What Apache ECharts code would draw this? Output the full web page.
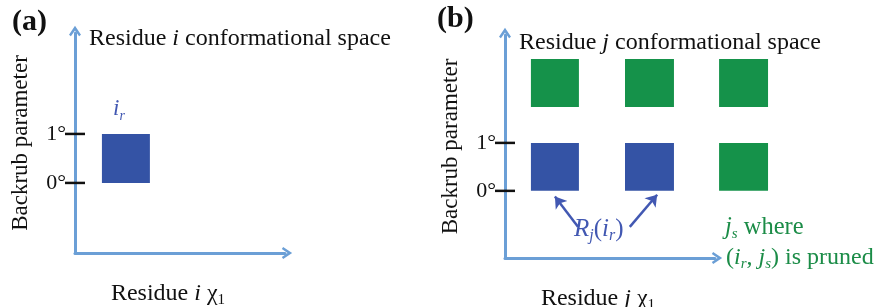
<!DOCTYPE html>
<html>
<head>
<meta charset="utf-8">
<script src="https://cdn.jsdelivr.net/npm/echarts@6/dist/echarts.min.js"></script>
<style>
  html, body { margin: 0; padding: 0; background: #fff; }
  #chart { width: 878px; height: 307px; }
</style>
</head>
<body>
<div id="chart"></div>
<script>
// backrub tick values (degrees)
const tickValues = [0, 1];
// panel (a): one rotamer box [chiStart, chiEnd, backrubStart, backrubEnd]
const boxesA = [[0.55, 1.53, 0, 1]];
// panel (b): R_j(i_r) boxes (blue) and pruned boxes (green)
const boxesBlue = [[0.54, 1.54, 0, 1], [2.5, 3.52, 0, 1]];
const boxesGreen = [[0.54, 1.54, 1.75, 2.75], [2.5, 3.52, 1.75, 2.75], [4.46, 5.48, 1.75, 2.75], [4.46, 5.48, 0, 1]];
// annotation arrows in panel (b) coords
const arrowsBlue = [[[1.52, -0.75], [1.04, -0.12]], [[2.6, -0.75], [3.17, -0.08]]];
const arrowsGreen = [[[5.21, -0.5], [5.21, -0.08]]];

const serif = 'Liberation Serif';
const axisBlue = '#6b9fd6';
const boxBlue = '#3453a5';
const boxGreen = '#15924a';
const textBlue = '#4258b2';
const textGreen = '#1b8c47';
const arrowPath = 'path://M5,0 L10,7.5 L8.4,8.6 L5,3.8 L1.6,8.6 L0,7.5 Z';

let myChart = echarts.init(document.getElementById('chart'));

function rich(color, size) {
  let s = Math.round(size * 0.62);
  return {
    n: { fontFamily: serif, fontSize: size, fontWeight: 'normal', color: color, fill: color, lineHeight: size + 4 },
    it: { fontFamily: serif, fontSize: size, fontWeight: 'normal', fontStyle: 'italic', color: color, fill: color, lineHeight: size + 4 },
    sub: { fontFamily: serif, fontSize: s, fontWeight: 'normal', fontStyle: 'italic', color: color, fill: color, lineHeight: s, verticalAlign: 'bottom' },
    subn: { fontFamily: serif, fontSize: s, fontWeight: 'normal', color: color, fill: color, lineHeight: s, verticalAlign: 'bottom' }
  };
}

function boxSeries(data, color, xi, label) {
  return {
    type: 'custom',
    xAxisIndex: xi,
    yAxisIndex: xi,
    data: data,
    encode: { x: [0, 1], y: [2, 3] },
    renderItem: function(params, api) {
      let p0 = api.coord([api.value(0), api.value(3)]);
      let p1 = api.coord([api.value(1), api.value(2)]);
      let children = [{
        type: 'rect',
        shape: { x: p0[0], y: p0[1], width: p1[0] - p0[0], height: p1[1] - p0[1] },
        style: { fill: color }
      }];
      if (label) {
        children.push({
          type: 'text',
          style: {
            x: (p0[0] + p1[0]) / 2 - 7, y: p0[1] - 11,
            text: label, rich: rich(textBlue, 23), fill: textBlue,
            align: 'center', verticalAlign: 'bottom'
          }
        });
      }
      return { type: 'group', children: children };
    }
  };
}

function tickSeries(xi) {
  return {
    type: 'custom',
    xAxisIndex: xi,
    yAxisIndex: xi,
    data: tickValues.map(v => [0, v]),
    renderItem: function(params, api) {
      let p = api.coord([0, api.value(1)]);
      return {
        type: 'line',
        shape: { x1: p[0] - 10, y1: p[1], x2: p[0] + 10, y2: p[1] },
        style: { stroke: '#111', lineWidth: 2.5 }
      };
    }
  };
}

function arrowSeries(data, color) {
  return {
    type: 'lines',
    coordinateSystem: 'cartesian2d',
    xAxisIndex: 1,
    yAxisIndex: 1,
    symbol: ['none', 'arrow'],
    symbolSize: 11,
    lineStyle: { color: color, width: 2.5, opacity: 1 },
    data: data.map(c => ({ coords: c }))
  };
}

function xAxis(gi, max, name) {
  return {
    type: 'value', gridIndex: gi, min: 0, max: max,
    axisLine: { show: true, onZero: false, symbol: ['none', arrowPath], symbolSize: [12, 11], symbolOffset: [0, 2], lineStyle: { color: axisBlue, width: 3 } },
    axisTick: { show: false }, axisLabel: { show: false }, splitLine: { show: false },
    name: name, nameLocation: 'middle', nameGap: 27,
    nameTextStyle: { rich: rich('#111', 24), padding: [0, 24, 0, 0] }
  };
}

function yAxis(gi, min, max) {
  return {
    type: 'value', gridIndex: gi, min: min, max: max,
    axisLine: { show: true, onZero: false, symbol: ['none', arrowPath], symbolSize: [12, 11], symbolOffset: [0, 2], lineStyle: { color: axisBlue, width: 3 } },
    axisTick: { show: false }, splitLine: { show: false },
    axisLabel: {
      customValues: tickValues, margin: 9,
      fontFamily: serif, fontSize: 22, color: '#111',
      formatter: v => v + '°'
    },
    name: 'Backrub parameter', nameLocation: 'middle', nameGap: 43,
    nameTextStyle: { fontFamily: serif, fontSize: 23, color: '#111' }
  };
}

myChart.setOption({
  animation: false,
  title: [
    { text: '(a)', left: 12, top: 7, padding: 0, textStyle: { fontFamily: serif, fontSize: 30, fontWeight: 'bold', color: '#111' } },
    { text: '{n|Residue }{it|i}{n| conformational space}', left: 89, top: 25, padding: 0, textStyle: { fontWeight: 'normal', rich: rich('#111', 24) } },
    { text: '(b)', left: 437, top: 4, padding: 0, textStyle: { fontFamily: serif, fontSize: 30, fontWeight: 'bold', color: '#111' } },
    { text: '{n|Residue }{it|j}{n| conformational space}', left: 519, top: 29, padding: 0, textStyle: { fontWeight: 'normal', rich: rich('#111', 24) } },
    { text: '{it|R}{sub|j}{n|(}{it|i}{sub|r}{n|)}', left: 574, top: 215, padding: 0, textStyle: { fontWeight: 'normal', rich: rich(textBlue, 25) } },
    { text: '{it|j}{sub|s}{n| where}', left: 725, top: 213, padding: 0, textStyle: { fontWeight: 'normal', rich: rich(textGreen, 24.5) } },
    { text: '{n|(}{it|i}{sub|r}{n|, }{it|j}{sub|s}{n|) is pruned}', left: 726, top: 244, padding: 0, textStyle: { fontWeight: 'normal', rich: rich(textGreen, 24) } }
  ],
  grid: [
    { left: 75, top: 33, width: 210, height: 220, outerBoundsMode: 'none' },
    { left: 505, top: 35, width: 210, height: 223, outerBoundsMode: 'none' }
  ],
  xAxis: [
    xAxis(0, 4.29, '{n|Residue }{it|i}{n| χ}{subn|1}'),
    xAxis(1, 4.375, '{n|Residue }{it|j}{n| χ}{subn|1}')
  ],
  yAxis: [
    yAxis(0, -1.43, 3.06),
    yAxis(1, -1.4, 3.25)
  ],
  series: [
    boxSeries(boxesA, boxBlue, 0, '{it|i}{sub|r}'),
    tickSeries(0),
    boxSeries(boxesBlue, boxBlue, 1),
    boxSeries(boxesGreen, boxGreen, 1),
    tickSeries(1),
    arrowSeries(arrowsBlue, textBlue),
    arrowSeries(arrowsGreen, textGreen)
  ]
});
window.onresize = myChart.resize;
</script>
</body>
</html>
